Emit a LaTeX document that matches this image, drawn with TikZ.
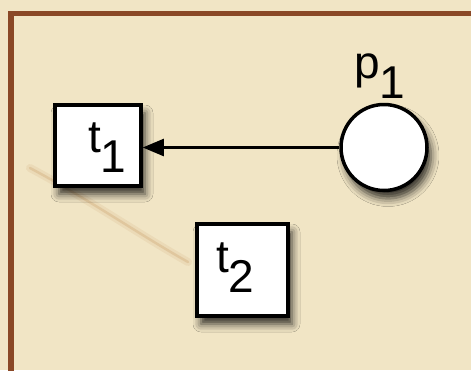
\documentclass[tikz,border=0pt]{standalone}
\usepackage{fontspec}
\setmainfont{Liberation Sans}
\usetikzlibrary{arrows.meta,shadows.blur,calc}
\definecolor{parch}{RGB}{241,229,197}
\definecolor{frame}{RGB}{138,72,38}
\definecolor{stain}{RGB}{195,145,85}
\tikzset{
  trans/.style={draw=black,line width=3.5pt,fill=white,minimum width=86pt,minimum height=81pt,inner sep=0pt,
    blur shadow={shadow xshift=4pt,shadow yshift=-8pt,shadow blur radius=8pt,shadow opacity=80}},
  place/.style={draw=black,line width=3.5pt,fill=white,circle,minimum size=86pt,inner sep=0pt,
    blur shadow={shadow xshift=4pt,shadow yshift=-8pt,shadow blur radius=8pt,shadow opacity=80}},
  lbl/.style={font=\fontsize{46}{46}\selectfont,inner sep=0pt,anchor=base west},
  arc/.style={line width=2.2pt,-{Triangle[length=21pt,width=17pt]}},
}
\newcommand{\sublbl}[2]{#1\raisebox{-20pt}{#2}}
\begin{document}
\begin{tikzpicture}[x=1pt,y=-1pt]
\useasboundingbox (0,0) rectangle (471,370);
\fill[parch] (0,0) rectangle (471,370);
\draw[stain,opacity=0.12,line width=8pt,line cap=round] (30,168) .. controls (90,200) and (140,235) .. (188,262);
\draw[stain,opacity=0.25,line width=2.5pt,line cap=round] (30,168) .. controls (90,200) and (140,235) .. (188,262);
\draw[frame,line width=5.5pt] (11,375) -- (11,13.5) -- (476,13.5);
\node[trans] (t1) at (98,145.5) {};
\node[trans,minimum width=91pt,minimum height=92pt] (t2) at (242.5,270) {};
\node[place] (p1) at (384,147.5) {};
\node[lbl] (t1l) at (88,152.7) {\sublbl{t}{1}};
\node[lbl] (t2l) at (216,272) {\sublbl{t}{2}};
\node[lbl] (p1l) at (354,78) {\sublbl{p}{1}};
\draw[arc] (p1.west) -- (t1.east |- p1.west);
\end{tikzpicture}
\end{document}
